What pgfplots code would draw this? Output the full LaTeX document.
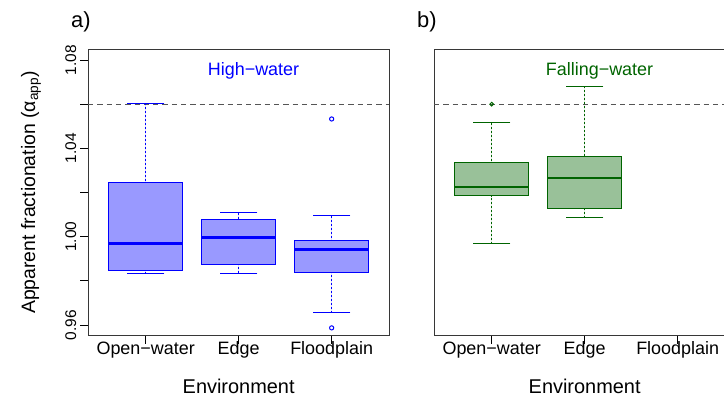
\documentclass[border=0pt]{standalone}
\usepackage{pgfplots}
\pgfplotsset{compat=1.18}
\usepgfplotslibrary{statistics}
\usepackage{fontspec}
\setmainfont{Liberation Sans}

\definecolor{hwline}{RGB}{0,0,255}
\definecolor{hwfill}{RGB}{153,153,255}
\definecolor{fwline}{RGB}{0,100,0}
\definecolor{fwfill}{RGB}{153,193,153}
\definecolor{framecol}{RGB}{55,55,55}
\definecolor{refline}{RGB}{85,85,85}

\pgfplotsset{
  panel/.style={
    scale only axis, width=301.3bp, height=286.2bp,
    xmin=0.38, xmax=3.62, ymin=0.9552, ymax=1.0848,
    xtick={1,2,3}, xticklabels={Open−water,Edge,Floodplain},
    xtick pos=left, tick align=outside, major tick length=8bp,
    axis line style={framecol, line width=0.9bp},
    every tick/.style={black, line width=0.8bp},
    xticklabel style={font=\fontsize{18}{20}\selectfont, anchor=base, yshift=-11bp},
    xlabel={Environment},
    xlabel style={font=\fontsize{20}{22}\selectfont, at={(axis description cs:0.5,-0.2016)}, anchor=base},
    clip=false,
    boxplot/draw direction=y,
    boxplot/box extend=0.8,
    boxplot/whisker extend=0.4,
    boxplot/draw/lower whisker/.code={
      \draw[color=\whiskcol, line width=1bp, dash pattern=on 2bp off 2bp]
        (boxplot cs:\pgfplotsboxplotvalue{lower whisker})
        -- (boxplot cs:\pgfplotsboxplotvalue{lower quartile});
      \draw[color=\whiskcol, line width=1bp, solid]
        (boxplot whisker cs:\pgfplotsboxplotvalue{lower whisker},0)
        -- (boxplot whisker cs:\pgfplotsboxplotvalue{lower whisker},1);
    },
    boxplot/draw/upper whisker/.code={
      \draw[color=\whiskcol, line width=1bp, dash pattern=on 2bp off 2bp]
        (boxplot cs:\pgfplotsboxplotvalue{upper whisker})
        -- (boxplot cs:\pgfplotsboxplotvalue{upper quartile});
      \draw[color=\whiskcol, line width=1bp, solid]
        (boxplot whisker cs:\pgfplotsboxplotvalue{upper whisker},0)
        -- (boxplot whisker cs:\pgfplotsboxplotvalue{upper whisker},1);
    },
    boxplot/draw/median/.code={
      \draw[color=\whiskcol, line width=2.4bp, solid]
        (boxplot box cs:\pgfplotsboxplotvalue{median},0)
        -- (boxplot box cs:\pgfplotsboxplotvalue{median},1);
    },
  },
  hw/.style={draw=hwline, fill=hwfill, line width=1bp, mark=o, mark size=2.1bp,
    mark options={solid, draw=hwline, line width=1bp}},
  fw/.style={draw=fwline, fill=fwfill, line width=1bp, mark=o, mark size=1.8bp,
    mark options={solid, draw=fwline, line width=1bp}},
  ref/.style={refline, line width=1bp, dash pattern=on 5.3bp off 4bp, no marks, forget plot},
}

\begin{document}
\begin{tikzpicture}[x=1bp, y=1bp]
\path[use as bounding box] (0,0) rectangle (724,398);

% a) High-water
\def\whiskcol{hwline}
\begin{axis}[panel, at={(88bp,62.4bp)}, anchor=south west,
  ytick={0.96,0.98,1.00,1.02,1.04,1.06,1.08},
  yticklabels={0.96,{},1.00,{},1.04,{},1.08},
  ytick pos=left,
  yticklabel shift=4bp,
  yticklabel style={font=\fontsize{15.5}{17}\selectfont, rotate=90, anchor=base},
  ylabel={Apparent fractionation (α\textsubscript{app})},
  ylabel style={font=\fontsize{19.5}{21}\selectfont, at={(axis description cs:-0.1759,0.5)}, anchor=base, rotate=0},
]
\addplot[ref] coordinates {(0.38,1.06) (3.62,1.06)};
% Open-water
\addplot[hw, boxplot prepared={draw position=1,
  lower whisker=0.9832, lower quartile=0.9845, median=0.9969,
  upper quartile=1.0245, upper whisker=1.0604}] coordinates {};
% Edge
\addplot[hw, boxplot prepared={draw position=2,
  lower whisker=0.9835, lower quartile=0.9876, median=0.9996,
  upper quartile=1.0079, upper whisker=1.0108}] coordinates {};
% Floodplain, with two outliers
\addplot[hw, boxplot prepared={draw position=3,
  lower whisker=0.9655, lower quartile=0.9839, median=0.9942,
  upper quartile=0.9982, upper whisker=1.0094}]
  table[row sep=\\, y index=0] {data\\ 1.0533\\ 0.9587\\};
\node[hwline, font=\fontsize{18}{20}\selectfont, anchor=base] at (axis cs:2.16,1.0729) {High−water};
\end{axis}

% b) Falling-water
\def\whiskcol{fwline}
\begin{axis}[panel, at={(434bp,62.4bp)}, anchor=south west,
  ytick=\empty,
]
\addplot[ref] coordinates {(0.38,1.06) (3.62,1.06)};
% Open-water, with one outlier
\addplot[fw, boxplot prepared={draw position=1,
  lower whisker=0.9967, lower quartile=1.0185, median=1.0225,
  upper quartile=1.0335, upper whisker=1.0515}]
  table[row sep=\\, y index=0] {data\\ 1.0600\\};
% Edge
\addplot[fw, boxplot prepared={draw position=2,
  lower whisker=1.0085, lower quartile=1.0127, median=1.0265,
  upper quartile=1.0362, upper whisker=1.0682}] coordinates {};
\node[fwline, font=\fontsize{18}{20}\selectfont, anchor=base] at (axis cs:2.16,1.0729) {Falling−water};
\end{axis}

\node[anchor=base west, font=\fontsize{22}{24}\selectfont, inner sep=0pt] at (71,371) {a)};
\node[anchor=base west, font=\fontsize{22}{24}\selectfont, inner sep=0pt] at (417,371) {b)};
\end{tikzpicture}
\end{document}
